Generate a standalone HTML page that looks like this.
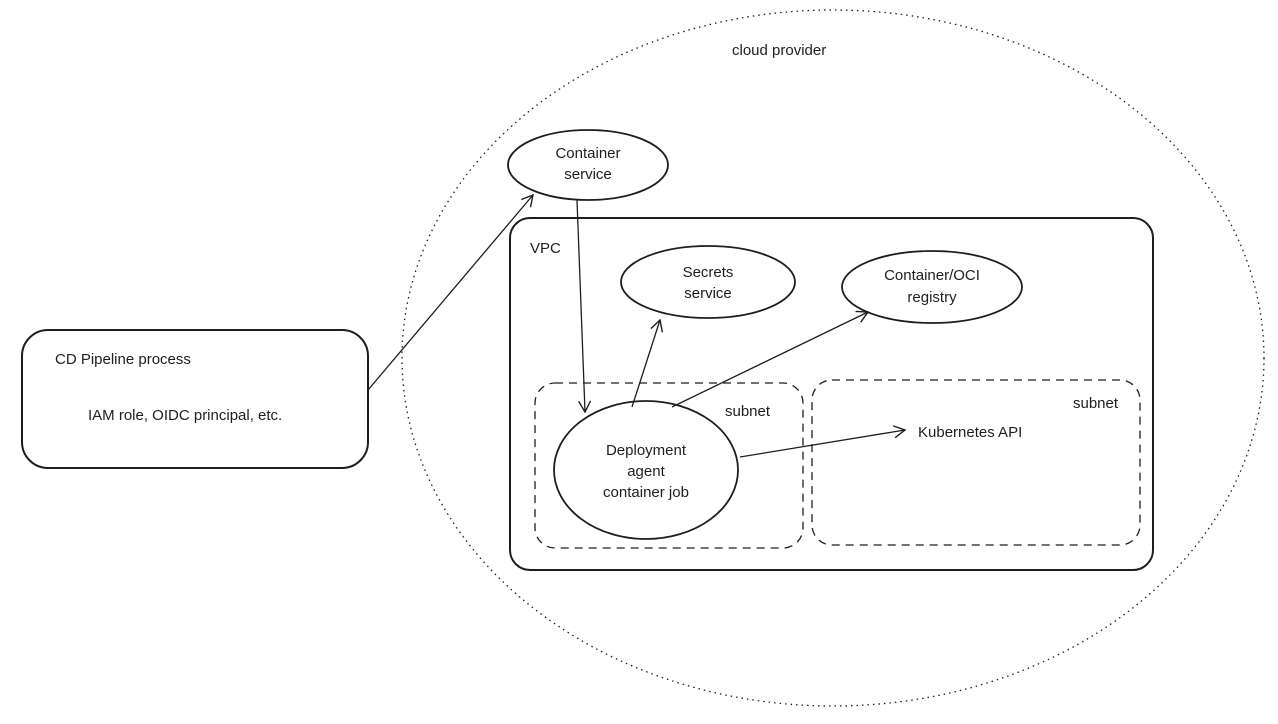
<!DOCTYPE html>
<html><head><meta charset="utf-8"><style>
html,body{margin:0;padding:0;background:#fff;}
svg{display:block;}
text{font-family:"Liberation Sans",sans-serif;font-size:15px;fill:#1e1e1e;}
</style></head><body>
<svg width="1278" height="724" viewBox="0 0 1278 724" xmlns="http://www.w3.org/2000/svg">
<defs><marker id="a" markerWidth="14" markerHeight="14" refX="12" refY="7" orient="auto" markerUnits="userSpaceOnUse"><path d="M1,1 L12,7 L1,13" fill="none" stroke="#1e1e1e" stroke-width="1.4"/></marker></defs>
<ellipse cx="833" cy="358" rx="431" ry="348" fill="none" stroke="#1e1e1e" stroke-width="1.3" stroke-dasharray="1.5 4"/>
<text x="732" y="55">cloud provider</text>
<rect x="22" y="330" width="346" height="138" rx="26" fill="none" stroke="#1e1e1e" stroke-width="2"/>
<text x="55" y="364">CD Pipeline process</text>
<text x="88" y="420">IAM role, OIDC principal, etc.</text>
<rect x="510" y="218" width="643" height="352" rx="20" fill="none" stroke="#1e1e1e" stroke-width="2"/>
<text x="530" y="253">VPC</text>
<rect x="535" y="383" width="268" height="165" rx="20" fill="none" stroke="#1e1e1e" stroke-width="1.3" stroke-dasharray="8 6"/>
<text x="725" y="416">subnet</text>
<rect x="812" y="380" width="328" height="165" rx="20" fill="none" stroke="#1e1e1e" stroke-width="1.3" stroke-dasharray="8 6"/>
<text x="1073" y="408">subnet</text>
<ellipse cx="588" cy="165" rx="80" ry="35" fill="none" stroke="#1e1e1e" stroke-width="1.8"/>
<text x="588" y="158" text-anchor="middle">Container</text>
<text x="588" y="179" text-anchor="middle">service</text>
<ellipse cx="708" cy="282" rx="87" ry="36" fill="none" stroke="#1e1e1e" stroke-width="1.8"/>
<text x="708" y="277" text-anchor="middle">Secrets</text>
<text x="708" y="298" text-anchor="middle">service</text>
<ellipse cx="932" cy="287" rx="90" ry="36" fill="none" stroke="#1e1e1e" stroke-width="1.8"/>
<text x="932" y="280" text-anchor="middle">Container/OCI</text>
<text x="932" y="302" text-anchor="middle">registry</text>
<ellipse cx="646" cy="470" rx="92" ry="69" fill="none" stroke="#1e1e1e" stroke-width="1.8"/>
<text x="646" y="455" text-anchor="middle">Deployment</text>
<text x="646" y="476" text-anchor="middle">agent</text>
<text x="646" y="497" text-anchor="middle">container job</text>
<text x="918" y="437">Kubernetes API</text>
<g fill="none" stroke="#1e1e1e" stroke-width="1.3" marker-end="url(#a)">
<path d="M368,390 L533,195"/>
<path d="M577,200 L585,412"/>
<path d="M632,407 L660,320"/>
<path d="M672,407 L868,312"/>
<path d="M740,457 L905,430"/>
</g>
</svg>
</body></html>
